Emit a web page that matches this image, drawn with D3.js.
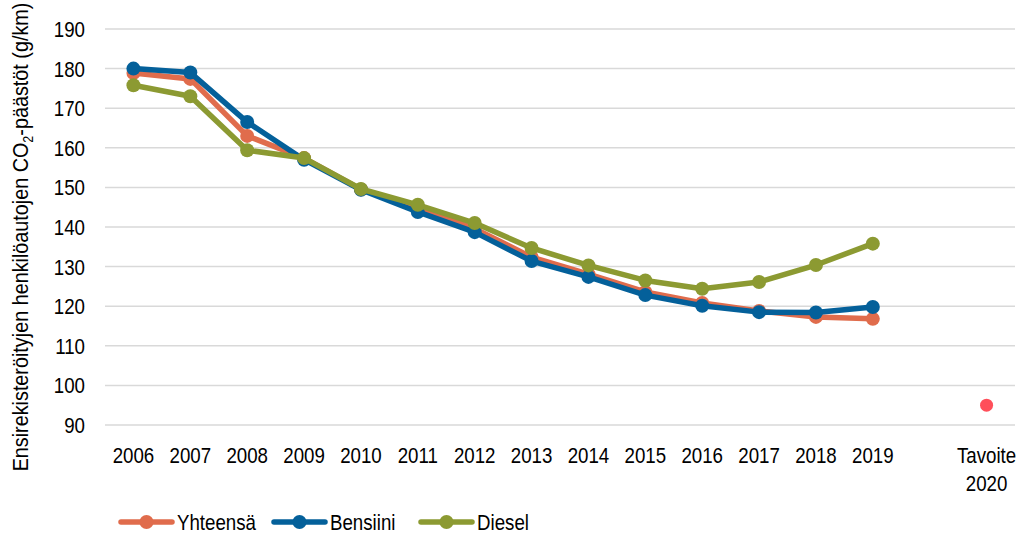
<!DOCTYPE html>
<html>
<head>
<meta charset="utf-8">
<script src="https://cdn.jsdelivr.net/npm/d3@7"></script>
<style>
  body { margin: 0; background: #fff; }
  svg text { font-family: "Liberation Sans", Arial, sans-serif; fill: #000; }
</style>
</head>
<body>
<div id="chart"></div>
<script>
// --- data ---
var years = ["2006","2007","2008","2009","2010","2011","2012","2013","2014","2015","2016","2017","2018","2019"];
var categories = years.concat(["", "Tavoite 2020"]);
var yhteensa = [178.9, 177.4, 163, 157.4, 149.5, 144.8, 139.6, 132.4, 128.1, 123.6, 120.8, 118.8, 117.3, 116.8];
var bensiini = [180, 179, 166.5, 157, 149.4, 143.8, 138.7, 131.4, 127.4, 122.8, 120.1, 118.5, 118.4, 119.8];
var diesel = [175.8, 173, 159.4, 157.4, 149.6, 145.6, 141, 134.7, 130.3, 126.5, 124.4, 126.1, 130.4, 135.8];
var tavoite = 95;
var yTicks = [90, 100, 110, 120, 130, 140, 150, 160, 170, 180, 190];

var series = [
    {name: "Yhteensä", values: yhteensa, color: "#E06C4C"},
    {name: "Bensiini", values: bensiini, color: "#04609A"},
    {name: "Diesel", values: diesel, color: "#8C9A32"}
];

var width = 1022;
var height = 537;
var margin = ({top: 29, right: 7, bottom: 112, left: 105});
var fontSize = 22;
var squeeze = 0.85; // the original font is a condensed one

var x = d3.scaleBand().domain(categories).range([margin.left, width - margin.right]);
var y = d3.scaleLinear().domain([90, 190]).range([height - margin.bottom, margin.top]);

var svg = d3.select("#chart").append("svg").attr("width", width).attr("height", height);

// Writes a narrowed text at (px, py)
function label(parent, px, py, txt, anchor){
    var g = parent.append("g").attr("transform", "translate(" + px + "," + py + ") scale(" + squeeze + ",1)");
    return g.append("text").attr("text-anchor", anchor).attr("font-size", fontSize).text(txt);
}

// gridlines
svg.append("g").selectAll("line").data(yTicks).join("line")
    .attr("x1", margin.left).attr("x2", width - margin.right)
    .attr("y1", d => y(d)).attr("y2", d => y(d))
    .attr("stroke", "#d9d9d9").attr("stroke-width", 1.5);

// y tick labels
var yl = svg.append("g");
yTicks.forEach(function(t){
    label(yl, 85, y(t) + 8, t, "end");
});

// x tick labels
var xl = svg.append("g");
categories.forEach(function(c){
    c.split(" ").forEach(function(p, i){
        label(xl, x(c) + x.bandwidth() / 2, 463 + i * 28, p, "middle");
    });
});

// y axis title
var tg = svg.append("g").attr("transform", "translate(28,237) rotate(-90) scale(0.9,1)");
var title = tg.append("text").attr("text-anchor", "middle").attr("font-size", fontSize);
title.append("tspan").text("Ensirekisteröityjen  henkilöautojen CO");
title.append("tspan").attr("font-size", 14).attr("dy", 5).text("2");
title.append("tspan").attr("dy", -5).text("-päästöt (g/km)");

// lines and markers
var line = d3.line().x((d, i) => x(years[i]) + x.bandwidth() / 2).y(d => y(d));
series.forEach(function(s){
    svg.append("path").datum(s.values)
        .attr("d", line).attr("fill", "none")
        .attr("stroke", s.color).attr("stroke-width", 5.5).attr("stroke-linejoin", "round");
    svg.append("g").selectAll("circle").data(s.values).join("circle")
        .attr("cx", (d, i) => x(years[i]) + x.bandwidth() / 2)
        .attr("cy", d => y(d)).attr("r", 7).attr("fill", s.color);
});

// target point
svg.append("circle")
    .attr("cx", x("Tavoite 2020") + x.bandwidth() / 2).attr("cy", y(tavoite))
    .attr("r", 6.5).attr("fill", "#FF4F5A");

// legend
var legendX = [118, 271, 418];
series.forEach(function(s, i){
    var g = svg.append("g").attr("transform", "translate(" + legendX[i] + ",522)");
    g.append("line").attr("x1", 3).attr("x2", 54).attr("stroke", s.color)
        .attr("stroke-width", 5.5).attr("stroke-linecap", "round");
    g.append("circle").attr("cx", 28.5).attr("r", 7).attr("fill", s.color);
    label(g, 59, 8, s.name, "start");
});
</script>
</body>
</html>
